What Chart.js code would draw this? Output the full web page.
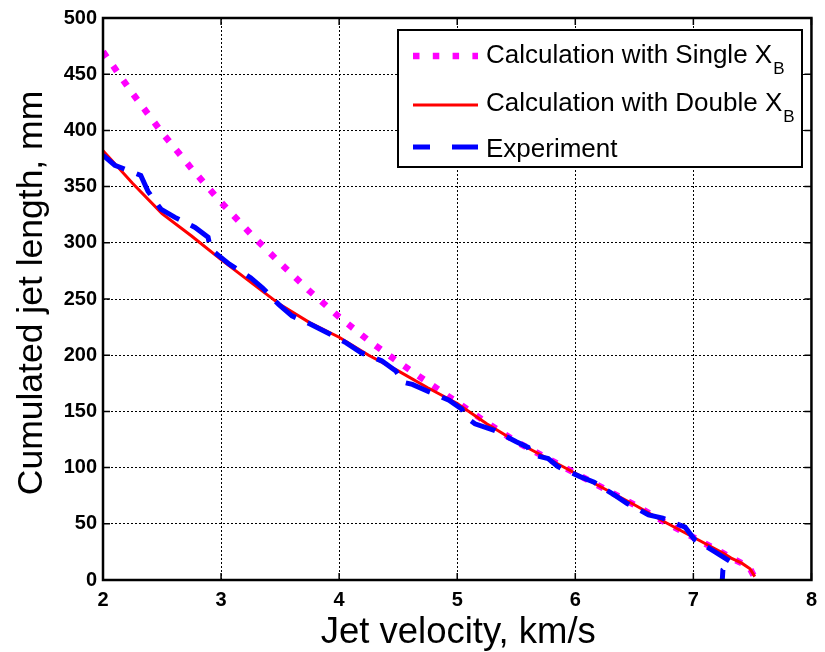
<!DOCTYPE html>
<html>
<head>
<meta charset="utf-8">
<script src="https://cdn.jsdelivr.net/npm/chart.js@4/dist/chart.umd.min.js"></script>
<style>
  html, body { margin: 0; padding: 0; background: #ffffff; }
  #wrap { width: 825px; height: 652px; }
</style>
</head>
<body>
<div id="wrap"><canvas id="chart" width="825" height="652"></canvas></div>
<script>
// Jet velocity (km/s) grid used by both calculations
const calcVelocity = [2.0, 2.25, 2.5, 2.75, 3.0, 3.25, 3.5, 3.75, 4.0, 4.25, 4.5, 4.75,
  5.0, 5.25, 5.5, 5.75, 6.0, 6.25, 6.5, 6.75, 7.0, 7.25, 7.32, 7.41, 7.48, 7.52];

// Cumulated jet length (mm), calculation with single X_B
const lengthSingle = [470, 433, 398, 366, 336, 308, 282, 257, 234, 213, 194, 176,
  158, 140, 123, 109, 95, 81, 67, 52, 38, 24, 19.5, 15, 10, 2];

// Cumulated jet length (mm), calculation with double X_B
const lengthDouble = [382, 353, 326, 306, 285, 265, 245, 229, 216, 200, 186, 171,
  157, 139, 123, 109, 95, 81, 67, 52, 38, 24, 19.5, 15, 10, 3];

// Measured jet velocity (km/s) and cumulated length (mm)
const expVelocity = [2.0, 2.1, 2.32, 2.38, 2.49, 2.61, 2.78, 2.89, 2.91, 2.98, 3.07, 3.25,
  3.35, 3.49, 3.6, 3.75, 3.9, 4.06, 4.19, 4.36, 4.48, 4.54, 4.62, 4.75, 4.93, 5.04, 5.07,
  5.15, 5.32, 5.5, 5.6, 5.62, 5.77, 5.85, 6.04, 6.16, 6.34, 6.44, 6.62, 6.74, 6.93, 7.01,
  7.2, 7.32, 7.28, 7.25, 7.245];
const expLength = [378, 369, 360, 346, 330, 322.6, 313.7, 305, 294.6, 288.6, 281, 269,
  260, 245, 235, 228, 220, 211, 202, 195, 186, 176, 174, 168, 160, 152, 145,
  139, 133, 123, 118, 112, 108, 101, 92, 87, 75, 68, 58, 55, 47, 36,
  24, 16, 12, 9, 0];

// Axis ticks
const xTicks = [2, 3, 4, 5, 6, 7, 8];
const yTicks = [0, 50, 100, 150, 200, 250, 300, 350, 400, 450, 500];

const seriesNames = ['Calculation with Single X', 'Calculation with Double X', 'Experiment'];
const xTitle = 'Jet velocity, km/s';
const yTitle = 'Cumulated jet length, mm';

const FONT = '"Liberation Sans", Arial, Helvetica, sans-serif';

function toPoints(xs, ys) {
  return xs.map((x, i) => ({ x: x, y: ys[i] }));
}

// Frame, inward ticks, axis titles and the legend box
const decorations = {
  id: 'decorations',
  afterDraw(chart) {
    const ctx = chart.ctx;
    const a = chart.chartArea;
    const xs = chart.scales.x, ys = chart.scales.y;
    ctx.save();

    // inward tick marks on all four sides
    ctx.strokeStyle = '#000';
    ctx.lineWidth = 1.5;
    ctx.setLineDash([]);
    const tl = 7;
    ctx.beginPath();
    xTicks.forEach(v => {
      const px = xs.getPixelForValue(v);
      ctx.moveTo(px, a.bottom); ctx.lineTo(px, a.bottom - tl);
      ctx.moveTo(px, a.top); ctx.lineTo(px, a.top + tl);
    });
    yTicks.forEach(v => {
      const py = ys.getPixelForValue(v);
      ctx.moveTo(a.left, py); ctx.lineTo(a.left + tl, py);
      ctx.moveTo(a.right, py); ctx.lineTo(a.right - tl, py);
    });
    ctx.stroke();

    // axes box
    ctx.lineWidth = 2.5;
    ctx.strokeRect(a.left, a.top, a.right - a.left, a.bottom - a.top);

    // axis titles
    ctx.fillStyle = '#000';
    ctx.textAlign = 'center';
    ctx.textBaseline = 'alphabetic';
    ctx.font = '36.5px ' + FONT;
    ctx.fillText(xTitle, (a.left + a.right) / 2 + 1, 643);
    ctx.save();
    ctx.font = '35.5px ' + FONT;
    ctx.translate(42, 293);
    ctx.rotate(-Math.PI / 2);
    ctx.fillText(yTitle, 0, 0);
    ctx.restore();

    // legend
    const bx = 398, by = 30, bw = 404, bh = 137;
    ctx.fillStyle = '#fff';
    ctx.fillRect(bx, by, bw, bh);
    ctx.lineWidth = 2;
    ctx.strokeStyle = '#000';
    ctx.strokeRect(bx, by, bw, bh);

    const sx0 = 413, sx1 = 478, tx = 486;
    // single X_B sample: dotted magenta
    ctx.strokeStyle = '#ff00ff';
    ctx.lineWidth = 6.5;
    ctx.lineCap = 'butt';
    ctx.setLineDash([6.5, 13.3]);
    ctx.beginPath(); ctx.moveTo(sx0, 56); ctx.lineTo(sx1, 56); ctx.stroke();
    // double X_B sample: solid red
    ctx.strokeStyle = '#ff0000';
    ctx.lineWidth = 3;
    ctx.setLineDash([]);
    ctx.beginPath(); ctx.moveTo(sx0, 105); ctx.lineTo(sx1, 105); ctx.stroke();
    // experiment sample: dashed blue
    ctx.strokeStyle = '#0000ff';
    ctx.lineWidth = 5;
    ctx.beginPath();
    ctx.moveTo(sx0, 147); ctx.lineTo(430, 147);
    ctx.moveTo(452, 147); ctx.lineTo(sx1, 147);
    ctx.stroke();

    ctx.fillStyle = '#000';
    ctx.textAlign = 'left';
    const rows = [63, 111, 157];
    seriesNames.forEach((name, i) => {
      ctx.font = '26px ' + FONT;
      ctx.fillText(name, tx, rows[i]);
      if (i < 2) {
        const w = ctx.measureText(name).width;
        ctx.font = '17px ' + FONT;
        ctx.fillText('B', tx + w + 1, rows[i] + 11);
      }
    });

    ctx.restore();
  }
};

new Chart(document.getElementById('chart'), {
  type: 'scatter',
  data: {
    datasets: [
      {
        label: seriesNames[2],
        data: toPoints(expVelocity, expLength),
        showLine: true,
        borderColor: '#0000ff',
        borderWidth: 5,
        borderDash: [26, 13],
        borderCapStyle: 'butt',
        pointRadius: 0,
        tension: 0,
        order: 0
      },
      {
        label: seriesNames[1],
        data: toPoints(calcVelocity, lengthDouble),
        showLine: true,
        borderColor: '#ff0000',
        borderWidth: 3,
        pointRadius: 0,
        tension: 0,
        order: 1
      },
      {
        label: seriesNames[0],
        data: toPoints(calcVelocity, lengthSingle),
        showLine: true,
        borderColor: '#ff00ff',
        borderWidth: 6.5,
        borderDash: [6.5, 11],
        borderCapStyle: 'butt',
        pointRadius: 0,
        tension: 0,
        order: 2
      }
    ]
  },
  options: {
    responsive: false,
    animation: false,
    events: [],
    layout: { padding: { top: 17, right: 6, left: 0, bottom: 0 } },
    plugins: {
      legend: { display: false },
      tooltip: { enabled: false },
      title: { display: false }
    },
    scales: {
      x: {
        type: 'linear',
        min: 2, max: 8,
        afterFit(scale) { scale.height = 72; },
        afterBuildTicks(scale) { scale.ticks = xTicks.map(v => ({ value: v })); },
        border: { display: false, dash: [2, 2] },
        grid: { color: '#000', lineWidth: 1, drawTicks: false },
        ticks: {
          color: '#000',
          padding: 8,
          maxRotation: 0,
          font: { family: FONT, size: 20, weight: 'bold' }
        }
      },
      y: {
        type: 'linear',
        min: 0, max: 500,
        afterFit(scale) { scale.width = 103; },
        afterBuildTicks(scale) { scale.ticks = yTicks.map(v => ({ value: v })); },
        border: { display: false, dash: [2, 2] },
        grid: { color: '#000', lineWidth: 1, drawTicks: false },
        ticks: {
          color: '#000',
          padding: 6,
          font: { family: FONT, size: 20, weight: 'bold' }
        }
      }
    }
  },
  plugins: [decorations]
});
</script>
</body>
</html>
